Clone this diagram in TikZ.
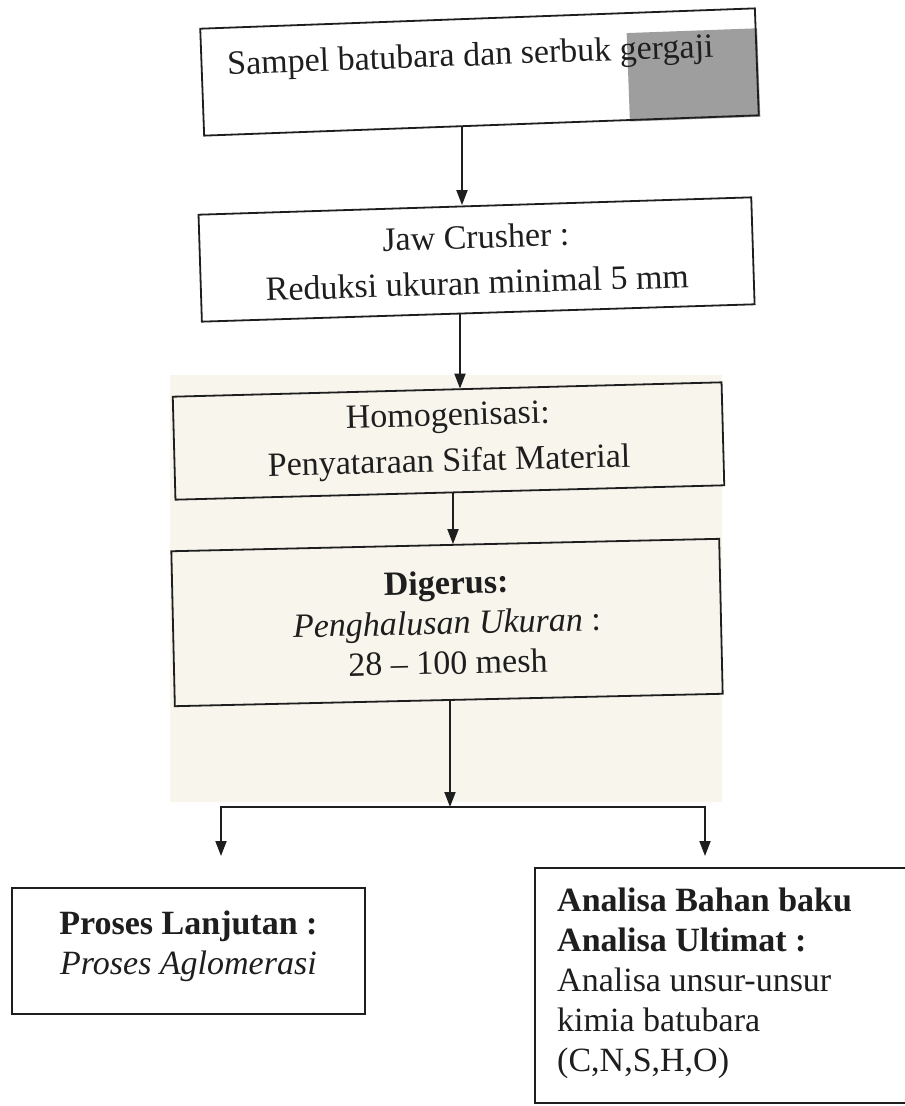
\documentclass[tikz,border=0pt]{standalone}
\usepackage{fontspec}
\setmainfont{Liberation Serif}
\usetikzlibrary{arrows.meta,calc}
\definecolor{scangray}{RGB}{158,158,158}
\definecolor{paper}{RGB}{247,245,236}
\definecolor{ink}{RGB}{30,30,30}
\begin{document}
\begin{tikzpicture}[x=1pt,y=-1pt,
  box/.style={draw=ink, line width=1.8pt, rectangle, inner sep=0pt},
  txt/.style={font=\fontsize{34}{40}\selectfont, align=center, inner sep=0pt, text=ink},
  wide/.style={font=\fontsize{34}{46}\selectfont},
  tip/.style={-{Triangle[width=11pt,length=15pt]}},
  conn/.style={draw=ink, line width=1.8pt}]
\useasboundingbox (0,0) rectangle (905,1106);
\clip (0,0) rectangle (905,1106);
\fill[white] (0,0) rectangle (905,1106);
\fill[paper] (170,375) rectangle (722,802);

% box 1
\begin{scope}[shift={(479.5,72)}, rotate=2.1, transform shape]
  \fill[scangray] (148.5,-33.5) rectangle (279,55);
  \node[box, minimum width=555pt, minimum height=107pt] (b1) at (0,0) {};
  \node[txt, anchor=base west] (t1) at (-252,-6.5) {Sampel batubara dan serbuk gergaji};
\end{scope}

% box 2
\begin{scope}[shift={(476.5,257.5)}, rotate=1.8, transform shape]
  \node[box, txt, wide, minimum width=553pt, minimum height=107pt] (b2) at (0,2)
    {Jaw Crusher :\\Reduksi ukuran minimal 5 mm};
\end{scope}

% box 3
\begin{scope}[shift={(448.5,441)}, rotate=1.5, transform shape]
  \node[box, txt, wide, minimum width=549pt, minimum height=103pt] (b3) at (0,0)
    {Homogenisasi:\\Penyataraan Sifat Material};
\end{scope}

% box 4
\begin{scope}[shift={(447,622.5)}, rotate=1.3, transform shape]
  \node[box, txt, minimum width=548pt, minimum height=155pt] (b4) at (0,0)
    {\textbf{Digerus:}\\\textit{Penghalusan Ukuran} :\\28 -- 100 mesh};
\end{scope}

% box 5
\node[box, minimum width=353pt, minimum height=126pt] (b5) at (188.5,951) {};
\node[txt] (t5) at (188.5,946) {\textbf{Proses Lanjutan :}\\\textit{Proses Aglomerasi}};

% box 6
\node[box, minimum width=380pt, minimum height=235pt] (b6) at (725,985.5) {};
\node[txt, align=left, anchor=north west] (t6) at (557,888)
  {\textbf{Analisa Bahan baku}\\\textbf{Analisa Ultimat :}\\Analisa unsur-unsur\\kimia batubara\\(C,N,S,H,O)};

% connectors
\coordinate (x12) at (462,0);
\coordinate (x23) at (460,0);
\coordinate (x34) at (453,0);
\coordinate (j) at (450,807);
\coordinate (jl) at (221,807);
\coordinate (jr) at (705,807);
\coordinate (al) at (221,856);
\coordinate (ar) at (705,856);

\draw[conn, tip] (b1.south -| x12) -- (b2.north -| x12);
\draw[conn, tip] (b2.south -| x23) -- (b3.north -| x23);
\draw[conn, tip] (b3.south -| x34) -- (b4.north -| x34);
\draw[conn, tip] (b4.south -| j) -- (j);
\draw[conn, {Triangle[width=11pt,length=15pt]}-{Triangle[width=11pt,length=15pt]}] (al) -- (jl) -- (jr) -- (ar);
\end{tikzpicture}
\end{document}
